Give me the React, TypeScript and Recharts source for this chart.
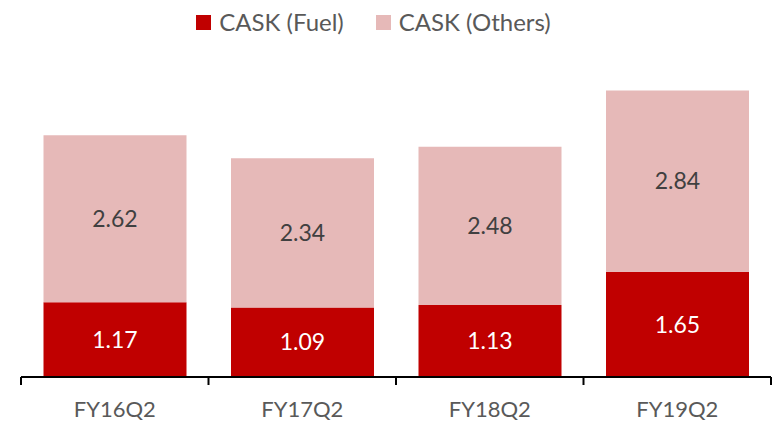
import React from "react";
import { BarChart, Bar, XAxis, YAxis, Legend, LabelList } from "recharts";

const quarters = ["FY16Q2", "FY17Q2", "FY18Q2", "FY19Q2"];
const caskFuel = [1.17, 1.09, 1.13, 1.65];
const caskOthers = [2.62, 2.34, 2.48, 2.84];

const data = quarters.map((q, i) => ({
    quarter: q,
    fuel: caskFuel[i],
    others: caskOthers[i],
}));

const FONT = "Lato, 'Open Sans', sans-serif";

// category label plus a tick mark on the band edges (Excel style "between" ticks)
const QuarterTick = (props: any) => {
    const { x, y, payload, index, visibleTicksCount } = props;
    const half = payload.offset || 0;
    const isLast = index === visibleTicksCount - 1;
    return (
        <g>
            <line x1={x - half} x2={x - half} y1={y} y2={y + 8} stroke="#000" strokeWidth={2} />
            {isLast && <line x1={x + half} x2={x + half} y1={y} y2={y + 8} stroke="#000" strokeWidth={2} />}
            <text x={x} y={y + 40} textAnchor="middle" fontSize={22} fill="#595959" fontFamily={FONT}>
                {payload.value}
            </text>
        </g>
    );
};

const renderLegend = (props: any) => {
    const { payload } = props;
    return (
        <div style={{ display: "flex", justifyContent: "center", gap: 32, fontFamily: FONT, fontSize: 24, lineHeight: "28px", color: "#595959", paddingRight: 45 }}>
            {payload.map((entry: any) => (
                <div key={entry.value} style={{ display: "flex", alignItems: "center" }}>
                    <span style={{ display: "inline-block", width: 15, height: 15, background: entry.color, marginRight: 8 }} />
                    <span>{entry.value}</span>
                </div>
            ))}
        </div>
    );
};

const App: React.FC = () => {
    return (
        <div style={{ position: "absolute", left: 0, top: 0, width: 775, height: 425, background: "#fff" }}>
            <BarChart
                width={775}
                height={425}
                data={data}
                margin={{ top: 30, right: 4, left: 21, bottom: 0 }}
                barCategoryGap="12%"
            >
                <XAxis
                    dataKey="quarter"
                    height={48}
                    axisLine={{ stroke: "#000", strokeWidth: 2 }}
                    tickLine={false}
                    tickSize={0}
                    tickMargin={0}
                    tick={<QuarterTick />}
                    interval={0}
                />
                <YAxis hide domain={[0, 5]} />
                <Legend verticalAlign="top" content={renderLegend} wrapperStyle={{ top: 8 }} />
                <Bar dataKey="fuel" name="CASK (Fuel)" stackId="a" fill="#C00000" isAnimationActive={false}>
                    <LabelList dataKey="fuel" position="center" fill="#FFFFFF" fontSize={23} fontFamily={FONT} />
                </Bar>
                <Bar dataKey="others" name="CASK (Others)" stackId="a" fill="#E6B9B8" isAnimationActive={false}>
                    <LabelList dataKey="others" position="center" fill="#404040" fontSize={23} fontFamily={FONT} />
                </Bar>
            </BarChart>
        </div>
    );
};

export default App;
